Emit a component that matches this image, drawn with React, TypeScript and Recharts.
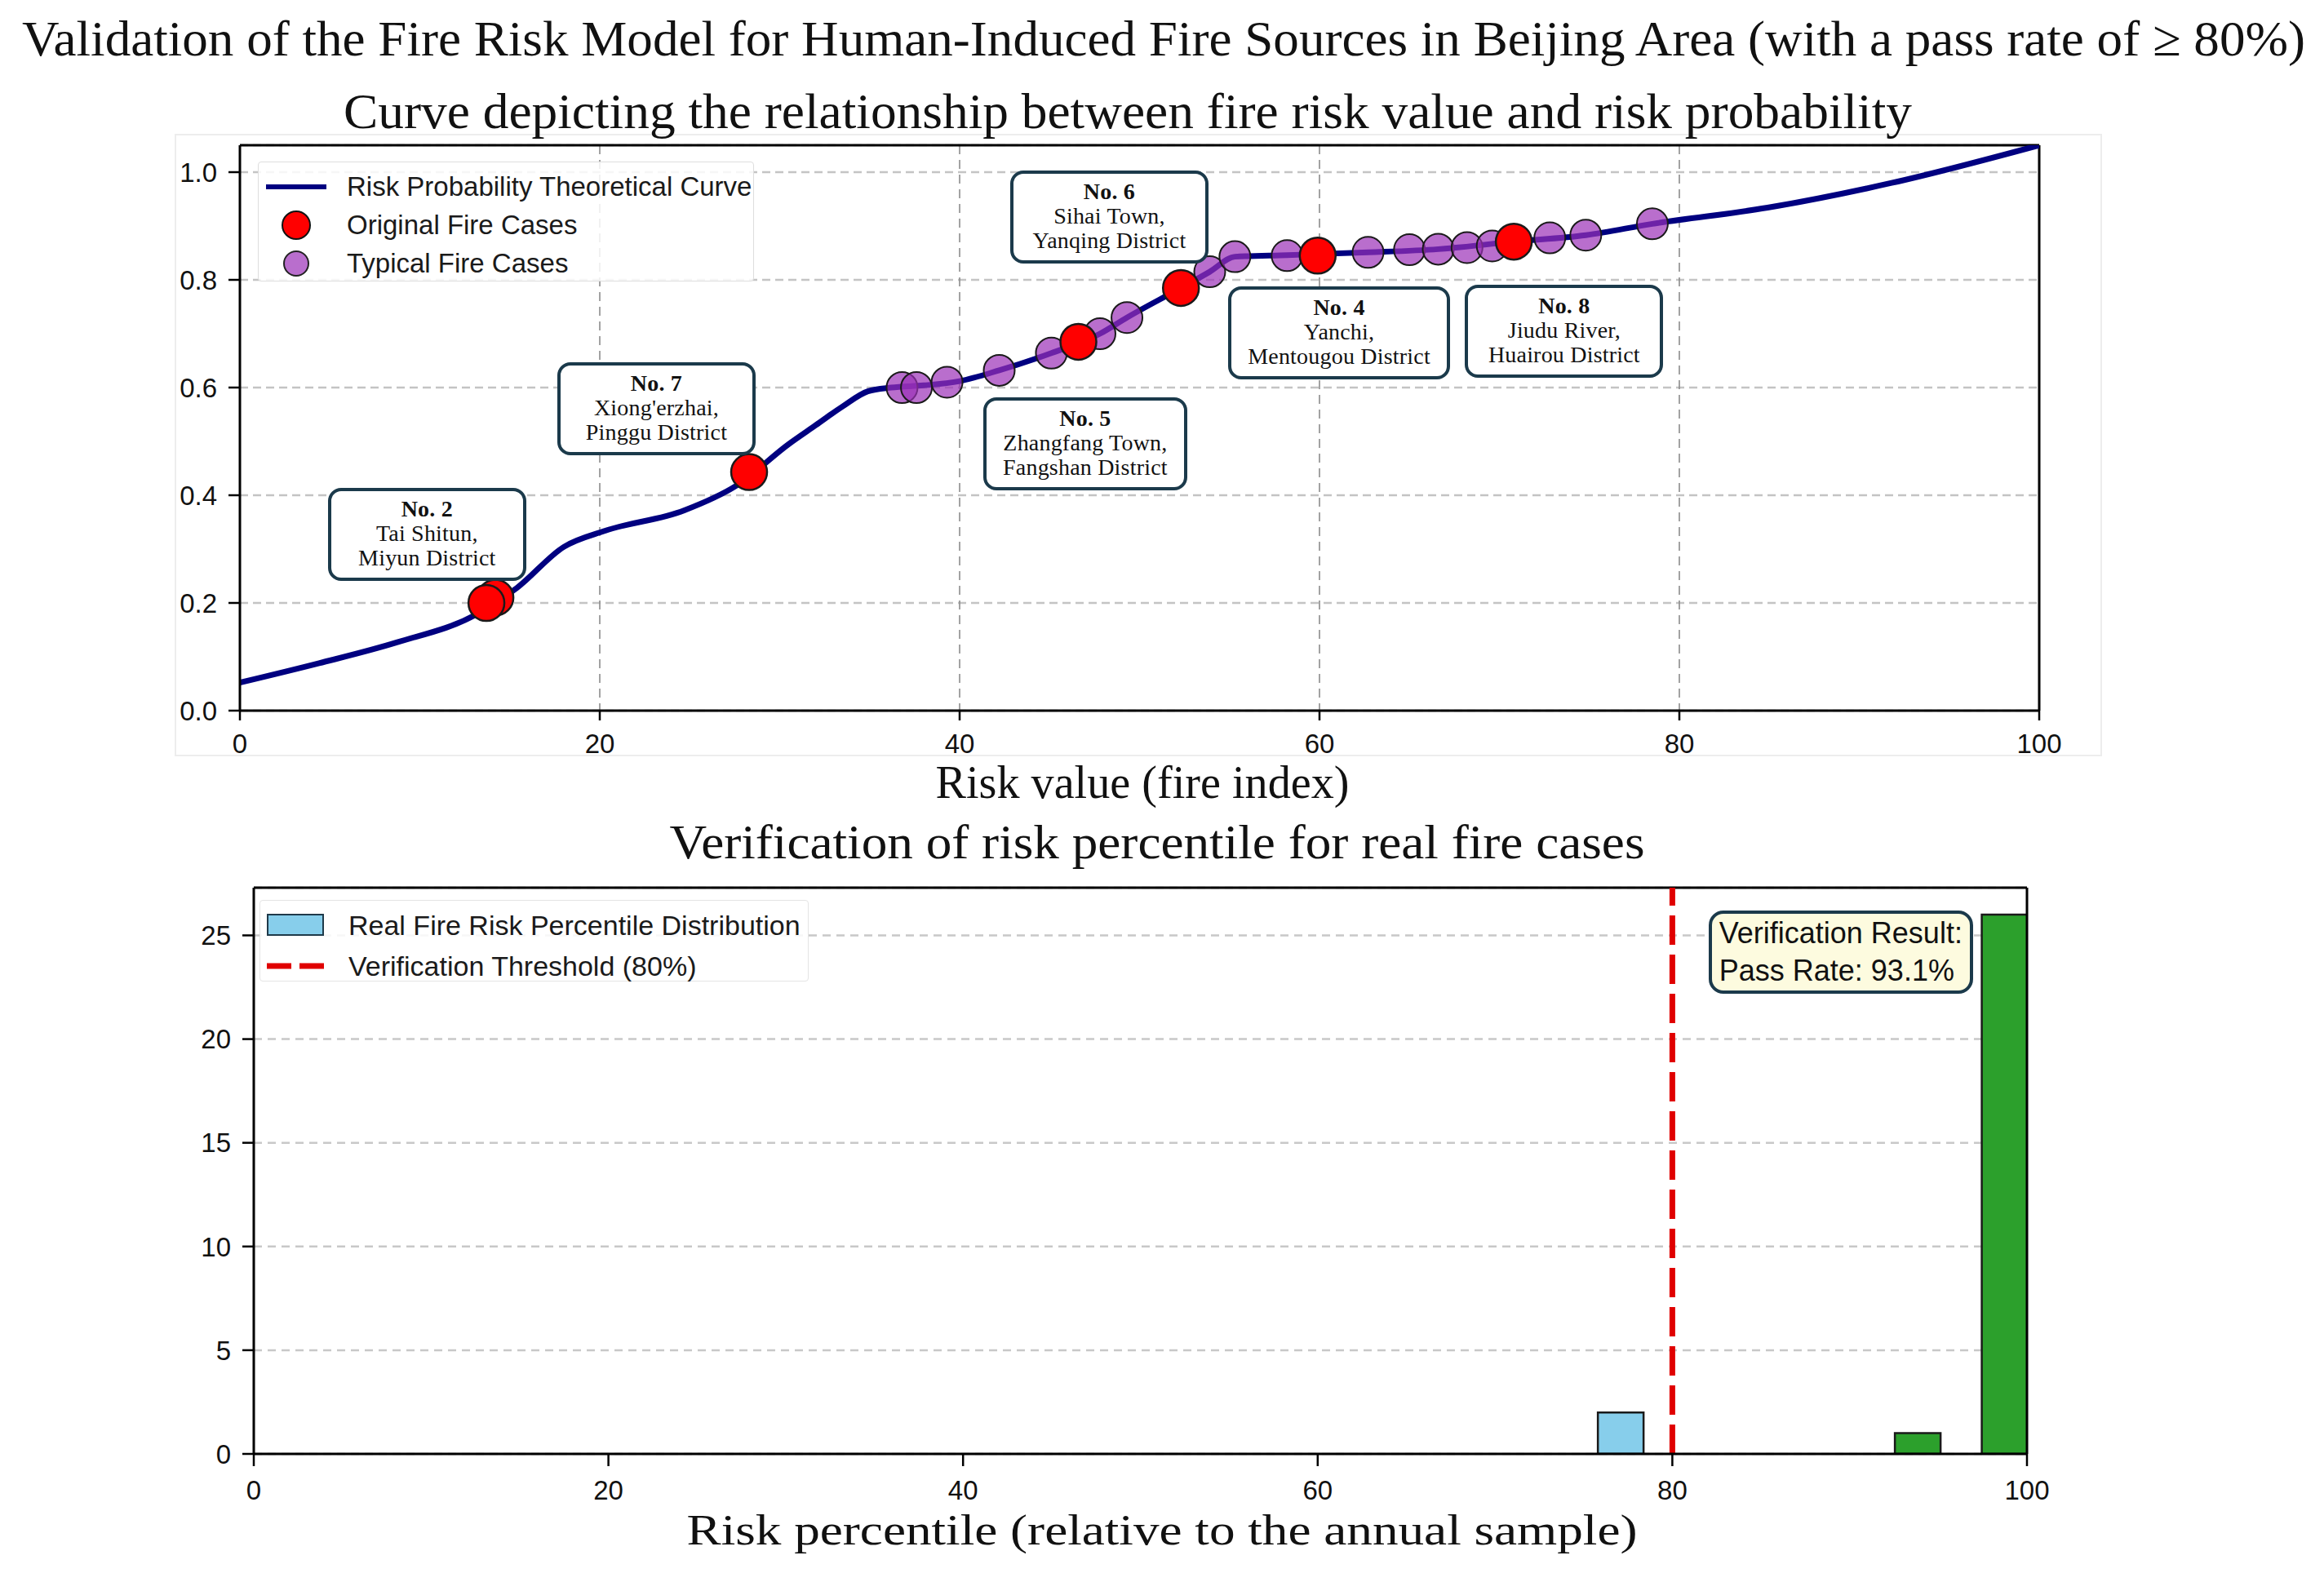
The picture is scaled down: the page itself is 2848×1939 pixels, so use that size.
import React from 'react';
import {
    ComposedChart, Line, Scatter, Bar, Cell, XAxis, YAxis, CartesianGrid,
    ReferenceLine, ReferenceDot, Legend,
} from 'recharts';

// theoretical curve (risk value -> probability)
const CURVE_X = [0, 4.4, 8.75, 13.1, 15.4, 18.0, 20.3, 24.7, 27.6, 30.5, 32.0, 33.5, 34.9, 36.2, 38.0, 40.0, 42.2, 45.1, 47.8, 49.3, 52.3, 53.9, 55.3, 58.2, 62.7, 66.6, 70.8, 74.8, 78.5, 84.9, 91.8, 100];
const CURVE_Y = [0.052, 0.088, 0.127, 0.178, 0.228, 0.304, 0.334, 0.372, 0.418, 0.495, 0.53, 0.565, 0.593, 0.6, 0.604, 0.612, 0.632, 0.664, 0.7, 0.73, 0.785, 0.815, 0.843, 0.846, 0.851, 0.857, 0.871, 0.883, 0.904, 0.934, 0.98, 1.05];

// original fire cases (red)
const ORIGINAL_X = [14.2, 13.7, 28.3, 46.6, 52.3, 59.9, 70.8];
const ORIGINAL_Y = [0.21, 0.2, 0.443, 0.685, 0.785, 0.845, 0.871];

// typical fire cases (purple)
const TYPICAL_X = [36.8, 37.6, 39.3, 42.2, 45.1, 47.8, 49.3, 53.9, 55.3, 58.2, 62.7, 65.0, 66.6, 68.2, 69.6, 72.8, 74.8, 78.5];
const TYPICAL_Y = [0.6, 0.6, 0.61, 0.632, 0.664, 0.7, 0.73, 0.815, 0.843, 0.845, 0.851, 0.856, 0.857, 0.86, 0.863, 0.878, 0.883, 0.904];

// case annotations (box centre in data units)
const CASE_NAMES = ['No. 2', 'No. 7', 'No. 5', 'No. 6', 'No. 4', 'No. 8'];
const CASE_PLACES = [
    ['Tai Shitun,', 'Miyun District'],
    ["Xiong'erzhai,", 'Pinggu District'],
    ['Zhangfang Town,', 'Fangshan District'],
    ['Sihai Town,', 'Yanqing District'],
    ['Yanchi,', 'Mentougou District'],
    ['Jiudu River,', 'Huairou District'],
];
const CASE_X = [10.4, 23.15, 46.98, 48.32, 61.09, 73.6];
const CASE_Y = [0.327, 0.56, 0.495, 0.917, 0.701, 0.704];

const RISK_TICKS = [0, 20, 40, 60, 80, 100];
const PROB_TICKS = [0, 0.2, 0.4, 0.6, 0.8, 1.0];

// percentile histogram
const PCT_CENTERS = [77.1, 93.85, 98.75];
const PCT_COUNTS = [2, 1, 26];
const PCT_PASSED = [false, true, true];
const PCT_BIN_WIDTH = 2.6;
const PCT_TICKS = [0, 20, 40, 60, 80, 100];
const COUNT_TICKS = [0, 5, 10, 15, 20, 25];
const THRESHOLD = 80;
const PASS_RATE = '93.1%';

const curveData = CURVE_X.map((x, i) => ({ x, y: CURVE_Y[i] }));
const originalData = ORIGINAL_X.map((x, i) => ({ x, y: ORIGINAL_Y[i] }));
const typicalData = TYPICAL_X.map((x, i) => ({ x, y: TYPICAL_Y[i] }));
const histData = PCT_CENTERS.map((x, i) => ({ x, count: PCT_COUNTS[i], passed: PCT_PASSED[i] }));

const SERIF = '"Liberation Serif", "Times New Roman", serif';
const SANS = '"Liberation Sans", Arial, sans-serif';
const NAVY = '#000080';
const BOX_EDGE = '#1b3a4b';

const PLOT2_W = 2484 - 311;

const CaseBox = ({ cx, cy, name, places }: any) => (
    <foreignObject x={cx - 200} y={cy - 90} width={400} height={180}>
        <div style={{ width: '100%', height: '100%', display: 'flex', alignItems: 'center', justifyContent: 'center' }}>
            <div style={{
                border: `4px solid ${BOX_EDGE}`, borderRadius: 16, background: '#fff',
                padding: '7px 20px 9px', fontFamily: SERIF, fontSize: 28, lineHeight: '30px',
                letterSpacing: 0.2, textAlign: 'center', whiteSpace: 'nowrap', color: '#111', minWidth: 195,
            }}>
                <div style={{ fontWeight: 'bold' }}>{name}</div>
                {places.map((p: string) => <div key={p}>{p}</div>)}
            </div>
        </div>
    </foreignObject>
);

const ResultBox = ({ cx, cy }: any) => (
    <foreignObject x={cx - 250} y={cy - 80} width={500} height={160}>
        <div style={{ width: '100%', height: '100%', display: 'flex', alignItems: 'center', justifyContent: 'center' }}>
            <div style={{
                border: `4px solid ${BOX_EDGE}`, borderRadius: 18, background: '#fdfbdf',
                padding: '1px 9px', fontFamily: SANS, fontSize: 36, lineHeight: '46px',
                whiteSpace: 'nowrap', color: '#111',
            }}>
                <div>Verification Result:</div>
                <div>Pass Rate: {PASS_RATE}</div>
            </div>
        </div>
    </foreignObject>
);

const CurveLegend = () => (
    <div style={{
        background: 'rgba(255,255,255,0.85)', border: '1.5px solid #dedede', borderRadius: 4,
        padding: '6px 0 0 9px', boxSizing: 'border-box', width: 608, height: 147,
        fontFamily: SANS, fontSize: 33, color: '#1a1a1a',
    }}>
        {[
            { label: 'Risk Probability Theoretical Curve', sym: <line x1={0} y1={22} x2={74} y2={22} stroke={NAVY} strokeWidth={6} /> },
            { label: 'Original Fire Cases', sym: <circle cx={37} cy={22} r={17} fill="#ff0000" stroke="#111" strokeWidth={2} /> },
            { label: 'Typical Fire Cases', sym: <circle cx={37} cy={22} r={15} fill="#9b30b8" fillOpacity={0.7} stroke="#222" strokeWidth={2} /> },
        ].map((it) => (
            <div key={it.label} style={{ display: 'flex', alignItems: 'center', height: 47 }}>
                <svg width={74} height={44} style={{ flexShrink: 0 }}>{it.sym}</svg>
                <span style={{ marginLeft: 25, whiteSpace: 'nowrap' }}>{it.label}</span>
            </div>
        ))}
    </div>
);

const HistLegend = () => (
    <div style={{
        background: 'rgba(255,255,255,0.85)', border: '1.5px solid #e4e4e4', borderRadius: 4,
        padding: '5px 0 0 8px', boxSizing: 'border-box', width: 673, height: 100,
        fontFamily: SANS, fontSize: 34, color: '#1a1a1a',
    }}>
        <div style={{ display: 'flex', alignItems: 'center', height: 50 }}>
            <svg width={70} height={30} style={{ flexShrink: 0 }}><rect x={1} y={2} width={68} height={25} fill="#87ceeb" stroke="#1f3a4a" strokeWidth={2} /></svg>
            <span style={{ marginLeft: 30, whiteSpace: 'nowrap' }}>Real Fire Risk Percentile Distribution</span>
        </div>
        <div style={{ display: 'flex', alignItems: 'center', height: 50 }}>
            <svg width={70} height={30} style={{ flexShrink: 0 }}><line x1={0} y1={15} x2={70} y2={15} stroke="#e00000" strokeWidth={7} strokeDasharray="30 10" /></svg>
            <span style={{ marginLeft: 30, whiteSpace: 'nowrap' }}>Verification Threshold (80%)</span>
        </div>
    </div>
);

const tickStyle = { fill: '#111', fontSize: 33, fontFamily: SANS };

export default function App() {
    return (
        <div style={{ position: 'absolute', left: 0, top: 0, width: 2848, height: 1939, background: '#fff', overflow: 'hidden' }}>
            <svg width={2848} height={1939} style={{ position: 'absolute', left: 0, top: 0 }}>
                <rect x={215} y={165} width={2360} height={761} fill="none" stroke="#ededed" strokeWidth={2} />
                <g fontFamily={SERIF} fill="#111" textAnchor="middle">
                    <text x={1426} y={68} fontSize={62} textLength={2798} lengthAdjust="spacingAndGlyphs">
                        Validation of the Fire Risk Model for Human-Induced Fire Sources in Beijing Area (with a pass rate of ≥ 80%)
                    </text>
                    <text x={1382} y={157} fontSize={62} textLength={1922} lengthAdjust="spacingAndGlyphs">
                        Curve depicting the relationship between fire risk value and risk probability
                    </text>
                    <text x={1400} y={978} fontSize={56} textLength={507} lengthAdjust="spacingAndGlyphs">
                        Risk value (fire index)
                    </text>
                    <text x={1418} y={1052} fontSize={60} textLength={1195} lengthAdjust="spacingAndGlyphs">
                        Verification of risk percentile for real fire cases
                    </text>
                    <text x={1424} y={1893} fontSize={53} textLength={1165} lengthAdjust="spacingAndGlyphs">
                        Risk percentile (relative to the annual sample)
                    </text>
                </g>
            </svg>

            <div style={{ position: 'absolute', left: 0, top: 0 }}>
                <ComposedChart width={2848} height={1000} margin={{ top: 178, right: 349, left: 214, bottom: 69 }}>
                    <CartesianGrid vertical={false} stroke="#c4c4c4" strokeWidth={2.5} strokeDasharray="10 6" />
                    <CartesianGrid horizontal={false} stroke="#8c8c8c" strokeWidth={1.6} strokeDasharray="11 7" />
                    <XAxis
                        type="number" dataKey="x" domain={[0, 100]} ticks={RISK_TICKS} allowDataOverflow
                        height={60} tickSize={12} tickMargin={17} tick={tickStyle}
                        axisLine={{ stroke: '#000', strokeWidth: 3 }} tickLine={{ stroke: '#000', strokeWidth: 2.5 }}
                    />
                    <YAxis
                        type="number" dataKey="y" domain={[0, 1.05]} ticks={PROB_TICKS} allowDataOverflow
                        width={80} tickSize={14} tickMargin={14} tick={tickStyle}
                        tickFormatter={(v: number) => v.toFixed(1)}
                        axisLine={{ stroke: '#000', strokeWidth: 3 }} tickLine={{ stroke: '#000', strokeWidth: 2.5 }}
                    />
                    <ReferenceLine y={1.05} stroke="#000" strokeWidth={3} />
                    <ReferenceLine x={100} stroke="#000" strokeWidth={3} />
                    <Line
                        data={curveData} dataKey="y" type="monotone" stroke={NAVY} strokeWidth={7}
                        dot={false} activeDot={false} isAnimationActive={false} name="Risk Probability Theoretical Curve"
                    />
                    <Scatter
                        data={typicalData} name="Typical Fire Cases" isAnimationActive={false}
                        shape={(p: any) => <circle cx={p.cx} cy={p.cy} r={19} fill="#9b30b8" fillOpacity={0.7} stroke="#1a1a1a" strokeWidth={2} />}
                    />
                    <Scatter
                        data={originalData} name="Original Fire Cases" isAnimationActive={false}
                        shape={(p: any) => <circle cx={p.cx} cy={p.cy} r={22} fill="#ff0000" stroke="#1a1a1a" strokeWidth={2.5} />}
                    />
                    {CASE_NAMES.map((name, i) => (
                        <ReferenceDot
                            key={name} x={CASE_X[i]} y={CASE_Y[i]} r={0}
                            shape={(p: any) => <CaseBox cx={p.cx} cy={p.cy} name={name} places={CASE_PLACES[i]} />}
                        />
                    ))}
                    <Legend
                        layout="vertical" align="center" verticalAlign="middle"
                        content={() => <CurveLegend />}
                        wrapperStyle={{ left: 316, top: 198, width: 608, height: 147 }}
                    />
                </ComposedChart>
            </div>

            <div style={{ position: 'absolute', left: 0, top: 1000 }}>
                <ComposedChart
                    width={2848} height={939} data={histData}
                    margin={{ top: 88, right: 364, left: 231, bottom: 97 }}
                >
                    <CartesianGrid vertical={false} stroke="#c8c8c8" strokeWidth={2.5} strokeDasharray="10 7" />
                    <XAxis
                        type="number" dataKey="x" domain={[0, 100]} ticks={PCT_TICKS} allowDataOverflow
                        height={60} tickSize={15} tickMargin={18} tick={tickStyle}
                        axisLine={{ stroke: '#000', strokeWidth: 3 }} tickLine={{ stroke: '#000', strokeWidth: 2.5 }}
                    />
                    <YAxis
                        type="number" dataKey="count" domain={[0, 27.3]} ticks={COUNT_TICKS} allowDataOverflow
                        width={80} tickSize={14} tickMargin={14} tick={tickStyle}
                        axisLine={{ stroke: '#000', strokeWidth: 3 }} tickLine={{ stroke: '#000', strokeWidth: 2.5 }}
                    />
                    <ReferenceLine y={27.3} stroke="#000" strokeWidth={3} />
                    <ReferenceLine x={100} stroke="#000" strokeWidth={3} />
                    <Bar
                        dataKey="count" barSize={Math.round((PCT_BIN_WIDTH * PLOT2_W) / 100)}
                        stroke="#1a1a1a" strokeWidth={2.5} isAnimationActive={false}
                        name="Real Fire Risk Percentile Distribution"
                    >
                        {histData.map((d, i) => (
                            <Cell key={`bin-${i}`} fill={d.passed ? '#2ca02c' : '#87ceeb'} />
                        ))}
                    </Bar>
                    <ReferenceLine x={THRESHOLD} stroke="#e00000" strokeWidth={7} strokeDasharray="36 12" />
                    <ReferenceDot x={89.5} y={24.2} r={0} shape={(p: any) => <ResultBox cx={p.cx} cy={p.cy} />} />
                    <Legend
                        layout="vertical" align="center" verticalAlign="middle"
                        content={() => <HistLegend />}
                        wrapperStyle={{ left: 318, top: 103, width: 673, height: 100 }}
                    />
                </ComposedChart>
            </div>
        </div>
    );
}
